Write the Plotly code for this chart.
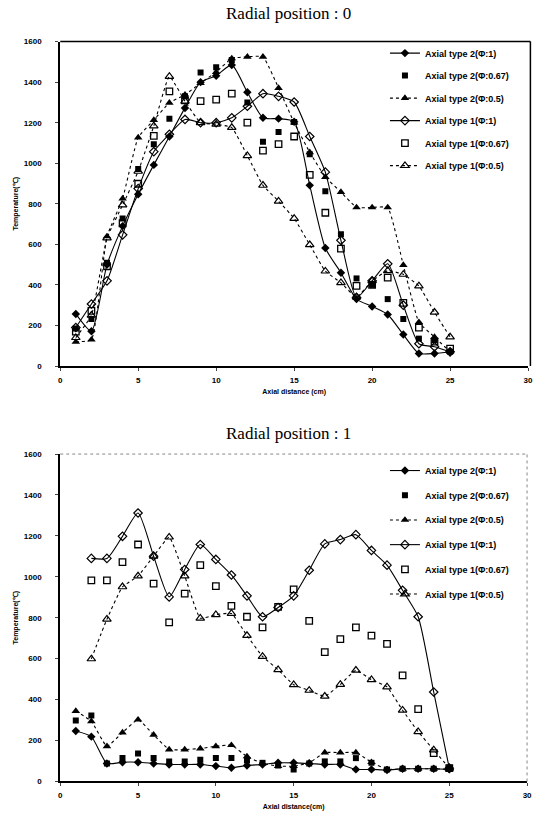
import plotly.graph_objects as go

# ---------------- data ----------------
x_all = list(range(1, 26))
x_b1 = list(range(2, 26))

names = ["Axial type 2(Φ:1)", "Axial type 2(Φ:0.67)", "Axial type 2(Φ:0.5)",
         "Axial type 1(Φ:1)", "Axial type 1(Φ:0.67)", "Axial type 1(Φ:0.5)"]

# Radial position 0
top_t2_1 = [257, 172, 500, 690, 847, 992, 1132, 1273, 1400, 1432, 1485, 1350, 1224, 1220, 1205,
            891, 582, 460, 330, 294, 254, 155, 62, 62, 70]
top_t2_067 = [185, 232, 509, 728, 972, 1094, 1220, 1330, 1447, 1473, 1509, 1300, 1106, 1154, 1203,
              1045, 862, 650, 432, 400, 330, 232, 135, 127, 70]
top_t2_05 = [119, 130, 639, 826, 1127, 1213, 1298, 1338, 1395, 1450, 1517, 1525, 1525, 1371, 1200,
             1054, 932, 858, 782, 782, 782, 498, 216, 143, 70]
top_t1_1 = [190, 306, 420, 647, 875, 1057, 1143, 1216, 1200, 1200, 1224, 1281, 1343, 1330, 1302,
            1132, 956, 620, 338, 420, 504, 300, 110, 95, 70]
top_t1_067 = [170, 272, 492, 704, 899, 1135, 1354, 1310, 1306, 1314, 1343, 1200, 1062, 1094, 1132,
              943, 756, 579, 395, 400, 436, 311, 189, 120, 86]
top_t1_05 = [140, 250, 631, 794, 960, 1184, 1428, 1306, 1200, 1192, 1176, 1037, 891, 813, 728,
             598, 468, 411, 340, 420, 470, 452, 395, 265, 143]

# Radial position 1
bot_t2_1 = [247, 219, 88, 94, 94, 88, 83, 83, 83, 75, 67, 78, 83, 91, 91, 88, 83, 83, 59, 59,
            56, 62, 62, 62, 59]
bot_t2_067 = [298, 322, 88, 114, 137, 114, 98, 98, 106, 114, 114, 103, 91, 78, 59, 88, 98, 98,
              114, 91, 59, 62, 62, 62, 67]
bot_t2_05 = [344, 294, 172, 239, 302, 228, 156, 156, 161, 172, 177, 122, 88, 75, 75, 91, 141,
             141, 141, 94, 59, 62, 62, 62, 59]
bot_t1_1 = [1090, 1090, 1198, 1312, 1101, 902, 1036, 1158, 1085, 1009, 907, 805, 850, 907, 1032,
            1161, 1182, 1206, 1129, 1057, 934, 805, 437, 65]
bot_t1_067 = [983, 983, 1072, 1158, 967, 777, 918, 1057, 955, 858, 805, 753, 853, 939, 785, 632,
              696, 753, 713, 672, 518, 353, 138, 65]
bot_t1_05 = [599, 793, 951, 1004, 1101, 1194, 1004, 798, 815, 821, 713, 611, 546, 473, 445, 416,
             474, 543, 497, 462, 348, 243, 154, 65]

x_ticks = [0, 5, 10, 15, 20, 25, 30]
y_ticks = [0, 200, 400, 600, 800, 1000, 1200, 1400, 1600]

# ---------------- styles ----------------
styles = [
    dict(mode="lines+markers", line=dict(color="black", width=1.1, shape="spline", smoothing=0.6),
         marker=dict(symbol="diamond", size=6.5, color="black")),
    dict(mode="markers", marker=dict(symbol="square", size=6, color="black")),
    dict(mode="lines+markers", line=dict(color="black", width=1.1, dash="3px,3px", shape="spline", smoothing=0.4),
         marker=dict(symbol="triangle-up", size=7.5, color="black")),
    dict(mode="lines+markers", line=dict(color="black", width=1.1, shape="spline", smoothing=0.6),
         marker=dict(symbol="diamond-open", size=6.5, color="black", line=dict(width=1.2))),
    dict(mode="markers", marker=dict(symbol="square-open", size=6.5, color="black", line=dict(width=1.3))),
    dict(mode="lines+markers", line=dict(color="black", width=1.1, dash="3px,3px", shape="spline", smoothing=0.4),
         marker=dict(symbol="triangle-up-open", size=7.5, color="black", line=dict(width=1.2))),
]

fig = go.Figure()

top_series = [top_t2_1, top_t2_067, top_t2_05, top_t1_1, top_t1_067, top_t1_05]
top_x = [x_all] * 6
bot_series = [bot_t2_1, bot_t2_067, bot_t2_05, bot_t1_1, bot_t1_067, bot_t1_05]
bot_x = [x_all, x_all, x_all, x_b1, x_b1, x_b1]

for i, (xs, ys) in enumerate(zip(top_x, top_series)):
    fig.add_trace(go.Scatter(x=xs, y=ys, name=names[i], xaxis="x", yaxis="y",
                             legend="legend", legendgroup="t%d" % i, **styles[i]))
for i, (xs, ys) in enumerate(zip(bot_x, bot_series)):
    fig.add_trace(go.Scatter(x=xs, y=ys, name=names[i], xaxis="x2", yaxis="y2",
                             legend="legend2", legendgroup="b%d" % i, **styles[i]))

W, H = 538, 828
def px_x(p):
    return p / W
def px_y(p):
    return 1 - p / H

tickfont = dict(family="Liberation Sans, Arial", size=8, color="black", weight="bold")
axfont = dict(family="Liberation Sans, Arial", size=7, color="black", weight="bold")

common_x = dict(range=[0, 30], tickvals=x_ticks, ticks="outside", ticklen=3, tickwidth=1,
                showgrid=False, zeroline=False, showline=True, linecolor="black", linewidth=2,
                tickfont=tickfont, ticklabelstandoff=2)
common_y = dict(range=[0, 1600], tickvals=y_ticks, ticks="outside", ticklen=3, tickwidth=1,
                showgrid=False, zeroline=False, showline=True, linecolor="black", linewidth=2,
                tickfont=tickfont, ticklabelstandoff=12)

legend_common = dict(font=dict(family="Liberation Sans, Arial", size=9, color="black", weight="bold"),
                     bgcolor="rgba(0,0,0,0)", borderwidth=0, itemwidth=30,
                     xanchor="left", yanchor="top")

fig.update_layout(
    width=W, height=H, margin=dict(l=0, r=0, t=0, b=0),
    paper_bgcolor="white", plot_bgcolor="white",
    showlegend=True,
    xaxis=dict(domain=[px_x(59), px_x(533)], anchor="y",
               title=dict(text="Axial distance (cm)", font=axfont, standoff=5), **common_x),
    yaxis=dict(domain=[px_y(366), px_y(38)], anchor="x",
               title=dict(text="Temperature(℃)", font=axfont, standoff=4), **common_y),
    xaxis2=dict(domain=[px_x(59), px_x(532)], anchor="y2",
                title=dict(text="Axial distance(cm)", font=axfont, standoff=5), **common_x),
    yaxis2=dict(domain=[px_y(786), px_y(455)], anchor="x2",
                title=dict(text="Temperature(℃)", font=axfont, standoff=4), **common_y),
    legend=dict(x=px_x(388), y=px_y(35), tracegroupgap=3.5, **legend_common),
    legend2=dict(x=px_x(388), y=px_y(457), tracegroupgap=5.7, **legend_common),
)

# frames: solid box top chart, dotted box bottom chart
fig.add_shape(type="line", xref="x domain", yref="y domain", x0=0, x1=1.005, y0=1, y1=1,
              line=dict(color="black", width=1.5))
fig.add_shape(type="line", xref="x domain", yref="y domain", x0=1.005, x1=1.005, y0=0, y1=1,
              line=dict(color="black", width=1.5))
fig.add_shape(type="line", xref="x2 domain", yref="y2 domain", x0=0, x1=1.0, y0=1, y1=1,
              line=dict(color="#888", width=1, dash="dot"))
fig.add_shape(type="line", xref="x2 domain", yref="y2 domain", x0=1.0, x1=1.0, y0=0, y1=1,
              line=dict(color="#888", width=1, dash="dot"))

title_font = dict(family="Liberation Serif, Times New Roman", size=17, color="black")
fig.add_annotation(text="Radial position : 0", x=px_x(290), y=px_y(10), xref="paper", yref="paper",
                   showarrow=False, font=title_font, xanchor="center", yanchor="middle")
fig.add_annotation(text="Radial position : 1", x=px_x(290), y=px_y(434), xref="paper", yref="paper",
                   showarrow=False, font=title_font, xanchor="center", yanchor="middle")

fig.write_html("out.html")
